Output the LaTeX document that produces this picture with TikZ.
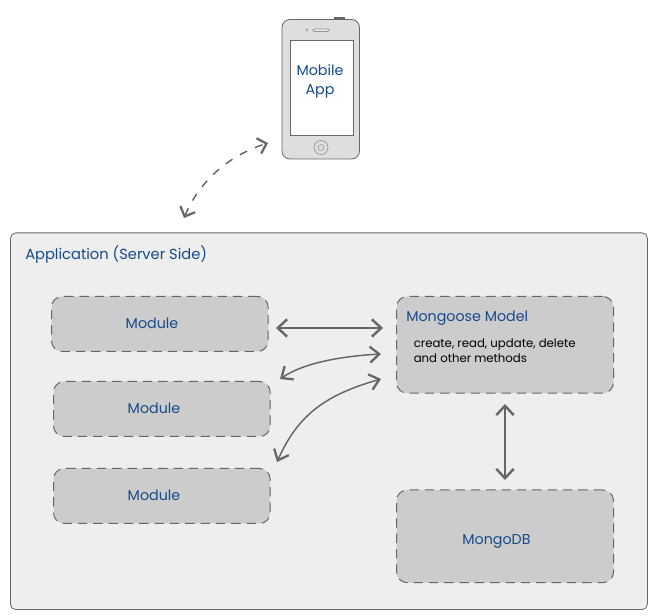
\documentclass[tikz,border=0pt]{standalone}
\usepackage{fontspec}
\setmainfont{Poppins}
\usetikzlibrary{arrows.meta}
\definecolor{txtblue}{HTML}{174A8C}
\definecolor{panelfill}{HTML}{EEEEEE}
\definecolor{boxfill}{HTML}{CCCCCC}
\definecolor{linegray}{HTML}{666666}
\definecolor{phonefill}{HTML}{DEDEDE}
\tikzset{
  x=0.75pt,y=-0.75pt,
  panel/.style={draw=linegray,fill=panelfill,rounded corners=4pt,line width=0.6pt},
  modbox/.style={draw=linegray,fill=boxfill,rounded corners=8pt,line width=0.75pt,dash pattern=on 7pt off 4.5pt},
  bluetext/.style={text=txtblue,font=\fontsize{10.7}{12}\selectfont,inner sep=0pt},
  smalltext/.style={text=black,font=\fontsize{8.8}{11.2}\selectfont,inner sep=0pt,align=left},
  conn/.style={draw=linegray,line width=1.5pt,{Straight Barb[length=7pt,width=13pt,line width=1.8pt]}-{Straight Barb[length=7pt,width=13pt,line width=1.8pt]}},
  thinconn/.style={draw=linegray,line width=1.1pt,{Straight Barb[length=7pt,width=12pt,line width=1.7pt]}-{Straight Barb[length=7pt,width=12pt,line width=1.7pt]}},
  dashconn/.style={draw=linegray,line width=1.1pt,dash pattern=on 6pt off 6.5pt,{Straight Barb[length=6pt,width=12pt,line width=1.7pt]}-{Straight Barb[length=6pt,width=12pt,line width=1.7pt]}},
}
\begin{document}
\begin{tikzpicture}
\useasboundingbox (0,0) rectangle (658,616);
% phone
\fill[linegray] (334,17.5) rectangle (345,20);
\draw[draw=linegray,fill=phonefill,rounded corners=6pt,line width=0.6pt] (282,19.5) rectangle (359.5,159) ;
\node[draw=linegray,fill=white,line width=0.4pt,minimum width=47.25pt,minimum height=71.25pt,inner sep=0pt,anchor=north west] (screen) at (289.5,40.5) {};
\node[bluetext,align=center,font=\fontsize{10.7}{14.25}\selectfont] (mobile) at (320,81) {Mobile\\App};
\draw[linegray!70,line width=0.5pt,fill=phonefill] (321,147.5) circle (7);
\draw[linegray!70,line width=0.4pt] (321,147.5) circle (3);
\draw[linegray!70,line width=0.5pt,fill=white!85!gray,rounded corners=1pt] (313,29) rectangle (329,31.5);
\draw[linegray!70,line width=0.3pt] (307,30.2) circle (1.2);
% panel
\node[panel,minimum width=477.75pt,minimum height=282.5pt,inner sep=0pt,anchor=north west] (app) at (10,232.5) {};
\node[bluetext,anchor=west] (apptitle) at (25,254.5) {\fontsize{11}{12}\selectfont Application (Server Side)};
% boxes
\node[modbox,minimum width=162.5pt,minimum height=41.25pt,inner sep=0pt,anchor=north west] (m1) at (51,296) {};
\node[bluetext] at (152,323) {Module};
\node[modbox,minimum width=162.5pt,minimum height=41.25pt,inner sep=0pt,anchor=north west] (m2) at (53,381) {};
\node[bluetext] at (154,408) {Module};
\node[modbox,minimum width=162.5pt,minimum height=41.25pt,inner sep=0pt,anchor=north west] (m3) at (53,468) {};
\node[bluetext] at (154,495) {Module};
\node[modbox,minimum width=162.75pt,minimum height=72.5pt,inner sep=0pt,anchor=north west] (mm) at (396,296) {};
\node[bluetext,anchor=west] (mmt) at (406,318.5) {Mongoose Model};
\node[smalltext,anchor=north west] (mmd) at (413.5,339) {create, read, update, delete\\and other methods};
\node[modbox,minimum width=162.75pt,minimum height=69.5pt,inner sep=0pt,anchor=north west] (db) at (396,489.5) {};
\node[bluetext] at (496.5,541) {MongoDB};
% connector ends
\coordinate (a1) at (276,328);
\coordinate (a2) at (383,328);
\coordinate (b1) at (280,379);
\coordinate (b2) at (381,354);
\coordinate (c1) at (277,462);
\coordinate (c2) at (381,379);
\coordinate (d1) at (505,404);
\coordinate (d2) at (505,480);
\coordinate (p1) at (184,218);
\coordinate (p2) at (268,143);
\draw[conn] (a1) -- (a2);
\draw[thinconn] (b1) .. controls (305,362) and (345,356) .. (b2);
\draw[thinconn] (c1) .. controls (298,415) and (325,395) .. (c2);
\draw[conn] (d1) -- (d2);
\draw[dashconn] (p1) .. controls (200,180) and (230,155) .. (p2);
\end{tikzpicture}
\end{document}
